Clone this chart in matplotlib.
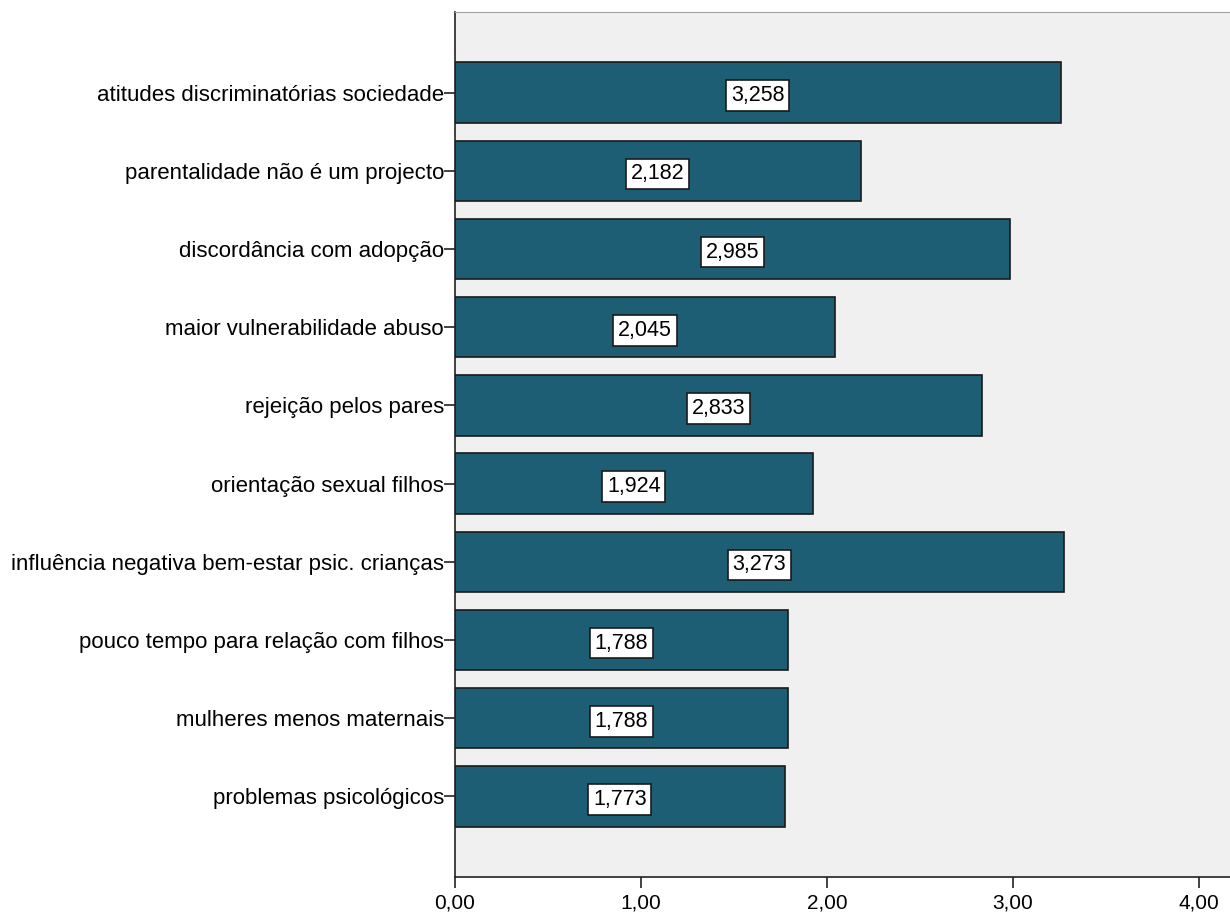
import matplotlib
matplotlib.use('Agg')
import matplotlib.pyplot as plt

plt.rcParams.update({
    'font.family': ['Liberation Sans', 'DejaVu Sans'],
    'font.size': 16,
})

categories = [
    'atitudes discriminatórias sociedade',
    'parentalidade não é um projecto',
    'discordância com adopção',
    'maior vulnerabilidade abuso',
    'rejeição pelos pares',
    'orientação sexual filhos',
    'influência negativa bem-estar psic. crianças',
    'pouco tempo para relação com filhos',
    'mulheres menos maternais',
    'problemas psicológicos',
]
means = [3.258, 2.182, 2.985, 2.045, 2.833, 1.924, 3.273, 1.788, 1.788, 1.773]
xticks = [0, 1, 2, 3, 4]

BAR = '#1d5e74'

fig = plt.figure(figsize=(12.3, 9.16), dpi=100)
ax = fig.add_axes([455 / 1230, 39 / 916, 775 / 1230, 865 / 916])
ax.set_facecolor('#f0f0f0')

pos = list(range(len(categories)))
ax.barh(pos, means, height=0.77, color=BAR, edgecolor='#1a1a1a', linewidth=1.2, zorder=3)

for p, v in zip(pos, means):
    ax.text(v / 2, p + 0.04, f'{v:.3f}'.replace('.', ','), ha='center', va='center',
            fontsize=15.5, zorder=4,
            bbox=dict(boxstyle='square,pad=0.22', facecolor='white', edgecolor='#1a1a1a', linewidth=1.2))

ax.set_yticks(pos)
ax.set_yticklabels(categories)
ax.set_ylim(10.03, -1.03)
ax.set_xlim(0, 4.167)
ax.set_xticks(xticks)
ax.set_xticklabels([f'{t:.2f}'.replace('.', ',') for t in xticks])

ax.tick_params(axis='both', direction='out', length=8, width=1.2, color='#222222')
ax.tick_params(axis='y', pad=0, labelsize=16)
ax.tick_params(axis='x', pad=4, labelsize=15)

ax.spines['right'].set_visible(False)
ax.spines['top'].set_color('#a0a0a0')
ax.spines['left'].set_color('#222222')
ax.spines['bottom'].set_color('#222222')
ax.spines['left'].set_linewidth(1.2)
ax.spines['bottom'].set_linewidth(1.2)

fig.savefig('out.png', dpi=100, facecolor='white')
plt.close(fig)
